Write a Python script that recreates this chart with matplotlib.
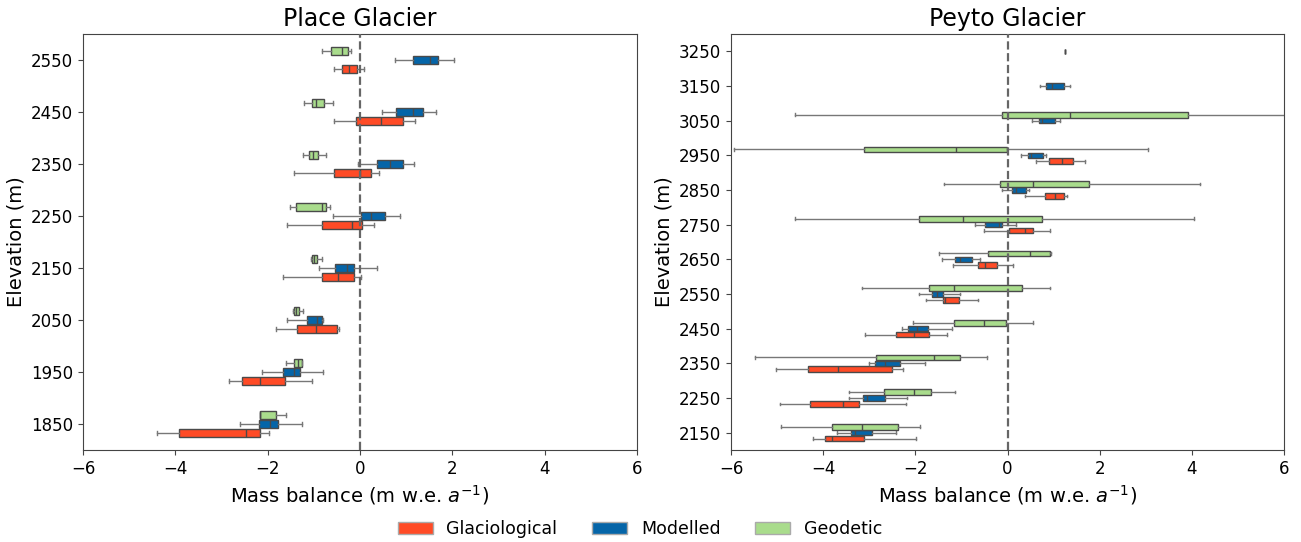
import matplotlib
matplotlib.use("Agg")
import matplotlib.pyplot as plt
from matplotlib.patches import Patch

# ---------------- data (whislo, q1, median, q3, whishi) ----------------
place_elev = [1850, 1950, 2050, 2150, 2250, 2350, 2450, 2550]
place_glac = [(-4.39, -3.91, -2.47, -2.17, -1.98), (-2.84, -2.55, -2.16, -1.62, -1.05),
              (-1.81, -1.36, -0.96, -0.50, -0.45), (-1.67, -0.82, -0.48, -0.14, 0.03),
              (-1.59, -0.82, -0.18, 0.04, 0.31), (-1.44, -0.56, 0.01, 0.23, 0.42),
              (-0.57, -0.09, 0.45, 0.93, 1.20), (-0.56, -0.40, -0.24, -0.07, 0.08)]
place_mod = [(-2.61, -2.18, -1.96, -1.78, -1.26), (-2.13, -1.67, -1.44, -1.30, -0.80),
             (-1.59, -1.15, -0.94, -0.82, -0.81), (-0.89, -0.54, -0.29, -0.12, 0.37),
             (-0.58, 0.03, 0.23, 0.54, 0.87), (-0.04, 0.37, 0.64, 0.93, 1.17),
             (0.47, 0.79, 1.14, 1.36, 1.64), (0.76, 1.15, 1.52, 1.68, 2.03)]
place_geo = [(-2.16, -2.16, -2.16, -1.83, -1.60), (-1.60, -1.44, -1.35, -1.26, -1.26),
             (-1.46, -1.44, -1.39, -1.33, -1.24), (-1.07, -1.05, -1.00, -0.94, -0.82),
             (-1.52, -1.39, -0.82, -0.74, -0.66), (-1.24, -1.10, -1.02, -0.92, -0.74),
             (-1.22, -1.05, -0.96, -0.77, -0.58), (-0.82, -0.63, -0.38, -0.27, -0.19)]

peyto_elev = [2150, 2250, 2350, 2450, 2550, 2650, 2750, 2850, 2950, 3050, 3150, 3250]
peyto_glac_elev = [2150, 2250, 2350, 2450, 2550, 2650, 2750, 2850, 2950]
peyto_glac = [(-4.23, -3.96, -3.80, -3.11, -1.99), (-4.94, -4.28, -3.57, -3.23, -2.21),
              (-5.03, -4.32, -3.67, -2.51, -2.27), (-3.10, -2.41, -2.03, -1.70, -1.31),
              (-1.76, -1.41, -1.36, -1.06, -0.63), (-1.18, -0.63, -0.49, -0.22, 0.11),
              (-0.51, 0.04, 0.39, 0.56, 0.92), (0.38, 0.82, 1.04, 1.22, 1.29),
              (0.61, 0.89, 1.18, 1.43, 1.69)]
peyto_mod_elev = [2150, 2250, 2350, 2450, 2550, 2650, 2750, 2850, 2950, 3050, 3150, 3250]
peyto_mod = [(-3.70, -3.40, -3.31, -2.94, -2.43), (-3.44, -3.13, -3.04, -2.66, -2.17),
             (-3.00, -2.87, -2.66, -2.33, -1.80), (-2.29, -2.16, -1.96, -1.72, -1.21),
             (-1.92, -1.64, -1.53, -1.40, -1.02), (-1.42, -1.13, -1.03, -0.77, -0.59),
             (-0.70, -0.49, -0.19, -0.13, 0.19), (-0.12, 0.09, 0.19, 0.40, 0.46),
             (0.29, 0.45, 0.50, 0.76, 0.84), (0.53, 0.68, 0.74, 1.04, 1.13),
             (0.70, 0.84, 0.97, 1.22, 1.35), (1.25, 1.25, 1.25, 1.25, 1.25)]
peyto_geo_elev = [2150, 2250, 2350, 2450, 2550, 2650, 2750, 2850, 2950, 3050]
peyto_geo = [(-4.91, -3.80, -3.16, -2.37, -1.89), (-3.43, -2.68, -2.03, -1.66, -1.14),
             (-5.48, -2.85, -1.60, -1.04, -0.44), (-2.05, -1.16, -0.51, -0.04, 0.56),
             (-3.16, -1.71, -1.17, 0.31, 0.92), (-1.49, -0.43, 0.48, 0.92, 0.94),
             (-4.62, -1.91, -0.97, 0.74, 4.04), (-1.37, -0.17, 0.56, 1.76, 4.17),
             (-5.93, -3.12, -1.11, -0.01, 3.05), (-4.62, -0.11, 1.35, 3.92, 6.60)]

series_names = ["Glaciological", "Modelled", "Geodetic"]
colors = {"Glaciological": "#FF4B26", "Modelled": "#0565A8", "Geodetic": "#A9DC8C"}
offsets = {"Glaciological": -17, "Modelled": 0, "Geodetic": 17}


def to_stats(rows):
    return [dict(whislo=r[0], q1=r[1], med=r[2], q3=r[3], whishi=r[4], fliers=[]) for r in rows]


def draw(ax, name, elevs, rows):
    pos = [e + offsets[name] for e in elevs]
    ax.bxp(to_stats(rows), positions=pos, widths=16, vert=False, patch_artist=True,
           showfliers=False, manage_ticks=False,
           boxprops=dict(facecolor=colors[name], edgecolor="#4a4a4a", linewidth=1.0),
           medianprops=dict(color="#4a4a4a", linewidth=1.0),
           whiskerprops=dict(color="#777777", linewidth=1.0),
           capprops=dict(color="#777777", linewidth=1.0))


fig = plt.figure(figsize=(13.01, 5.42), dpi=100)
ax1 = fig.add_axes([83 / 1301, 1 - 450 / 542, (637 - 83) / 1301, (450 - 34) / 542])
ax2 = fig.add_axes([731 / 1301, 1 - 450 / 542, (1284 - 731) / 1301, (450 - 34) / 542])

draw(ax1, "Glaciological", place_elev, place_glac)
draw(ax1, "Modelled", place_elev, place_mod)
draw(ax1, "Geodetic", place_elev, place_geo)
draw(ax2, "Glaciological", peyto_glac_elev, peyto_glac)
draw(ax2, "Modelled", peyto_mod_elev, peyto_mod)
draw(ax2, "Geodetic", peyto_geo_elev, peyto_geo)

for ax, title, elevs, ylim in [(ax1, "Place Glacier", place_elev, (1800, 2600)),
                               (ax2, "Peyto Glacier", peyto_elev, (2100, 3300))]:
    ax.axvline(0, color="#666666", linestyle="--", linewidth=1.6, zorder=5)
    ax.set_xlim(-6, 6)
    ax.set_ylim(*ylim)
    ax.set_yticks(elevs)
    ax.set_yticklabels([str(e) for e in elevs])
    ax.set_xticks([-6, -4, -2, 0, 2, 4, 6])
    ax.set_xticklabels(["\u22126", "\u22124", "\u22122", "0", "2", "4", "6"])
    ax.tick_params(labelsize=12, color="#444444")
    for sp in ax.spines.values():
        sp.set_color("#444444")
    ax.set_title(title, fontsize=17)
    ax.set_xlabel("Mass balance (m w.e. $a^{-1}$)", fontsize=14)
    ax.set_ylabel("Elevation (m)", fontsize=14)

handles = [Patch(facecolor=colors[n], edgecolor="#aaaaaa", label=n) for n in series_names]
fig.legend(handles=handles, loc="center", bbox_to_anchor=(640 / 1301, 13 / 542), ncol=3,
           frameon=False, fontsize=12.5, handlelength=2.0, handletextpad=0.8,
           columnspacing=2.0)

fig.savefig("out.png", dpi=100)
